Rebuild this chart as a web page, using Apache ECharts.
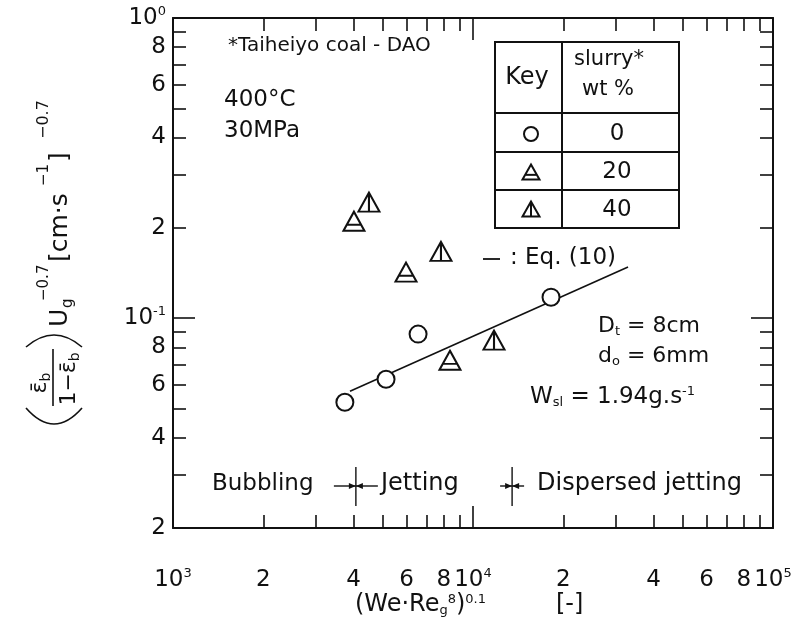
<!DOCTYPE html>
<html>
<head>
<meta charset="utf-8">
<script src="https://cdn.jsdelivr.net/npm/echarts@6/dist/echarts.min.js"></script>
<style>
  html, body { margin: 0; padding: 0; background: #fff; }
  #chart { width: 799px; height: 626px; }
</style>
</head>
<body>
<div id="chart"></div>
<script>
const FONT = '"DejaVu Sans", sans-serif';
const INK = '#111';

// Slurry 0 wt% (open circles)
const circleX = [3740, 5130, 6560, 18200];
const circleY = [0.0525, 0.0626, 0.0885, 0.1175];
// Slurry 20 wt% (triangle with bar)
const tri20X = [4010, 5980, 8380];
const tri20Y = [0.2104, 0.1424, 0.0724];
// Slurry 40 wt% (triangle with stem)
const tri40X = [4500, 7820, 11750];
const tri40Y = [0.2436, 0.167, 0.0845];
// Eq. (10) correlation line
const eqX = [3890, 32870];
const eqY = [0.0571, 0.148];
// Flow regime transitions: bubbling | jetting | dispersed jetting
const regimeBounds = [4070, 13500];

// Axis ticks and labels
const xLabelValues = [1000, 2000, 4000, 6000, 8000, 10000, 20000, 40000, 60000, 80000, 100000];
const xMajorTicks = [1000, 10000, 100000];
const xMinorTicks = [2000, 3000, 4000, 5000, 6000, 7000, 8000, 9000,
                     20000, 30000, 40000, 50000, 60000, 70000, 80000, 90000];
const yLabelValues = [0.02, 0.04, 0.06, 0.08, 0.1, 0.2, 0.4, 0.6, 0.8, 1];
const yMajorTicks = [0.1, 1];
const yMinorTicks = [0.02, 0.03, 0.04, 0.05, 0.06, 0.07, 0.08, 0.09,
                     0.2, 0.3, 0.4, 0.5, 0.6, 0.7, 0.8, 0.9];

const SYM_TRI20 = 'path://M10,0L20,18L0,18Z M3.6,12.4L16.4,12.4';
const SYM_TRI40 = 'path://M10,0L20,18L0,18Z M10,0L10,18';

function zip(xs, ys) { return xs.map((x, i) => [x, ys[i]]); }

function logLabel(v) {
  const e = Math.log10(v);
  const r = Math.round(e);
  if (Math.abs(e - r) < 1e-6) return '{n|10}{s|' + r + '}';
  const lead = Math.round(v / Math.pow(10, Math.floor(e + 1e-9)));
  return '{n|' + lead + '}';
}

const labelRich = {
  n: { fontFamily: FONT, fontSize: 23, color: INK, lineHeight: 26 },
  s: { fontFamily: FONT, fontSize: 13, color: INK, verticalAlign: 'top', lineHeight: 26 }
};

function makeAxis(dim, position, major, withLine, withLabels) {
  const isX = dim === 'x';
  return {
    type: 'log',
    logBase: 10,
    min: isX ? 1000 : 0.02,
    max: isX ? 100000 : 1,
    position: position,
    splitLine: { show: false },
    axisLine: { show: withLine, onZero: false, lineStyle: { color: INK, width: 2 } },
    axisTick: {
      show: true,
      inside: true,
      length: major ? 22 : 13,
      lineStyle: { color: INK, width: 1.6 },
      customValues: major ? (isX ? xMajorTicks : yMajorTicks) : (isX ? xMinorTicks : yMinorTicks)
    },
    axisLabel: withLabels ? {
      show: true,
      margin: isX ? 39 : 7,
      customValues: isX ? xLabelValues : yLabelValues,
      formatter: logLabel,
      rich: labelRich
    } : { show: false }
  };
}

const chart = echarts.init(document.getElementById('chart'), null, { renderer: 'canvas' });

const txt = (x, y, text, size, extra) => ({
  type: 'text', x: x, y: y,
  style: Object.assign({ text: text, font: (size || 23) + 'px ' + FONT, fill: INK, verticalAlign: 'middle' }, extra || {})
});

const richText = (x, y, text, rich, extra) => ({
  type: 'text', x: x, y: y,
  style: Object.assign({ text: text, fill: INK, rich: rich, verticalAlign: 'middle' }, extra || {})
});

function subRich(size) {
  return {
    m: { fontFamily: FONT, fontSize: size, color: INK, lineHeight: 30, verticalAlign: 'middle' },
    sb: { fontFamily: FONT, fontSize: 13, color: INK, lineHeight: 30, verticalAlign: 'bottom', padding: [0, 0, 3, 0] },
    sp: { fontFamily: FONT, fontSize: 13, color: INK, lineHeight: 30, verticalAlign: 'top', padding: [3, 0, 0, 0] }
  };
}

const line = (x1, y1, x2, y2, w) => ({
  type: 'line', shape: { x1: x1, y1: y1, x2: x2, y2: y2 },
  style: { stroke: INK, lineWidth: w || 1.8 }
});

// Key table (legend)
const T = { l: 495, r: 679, t: 42, h: 113, r1: 152, r2: 190, b: 228, c: 562 };
function keyTriangle(cx, cy, kind) {
  const w = 17, h = 15;
  const top = [cx, cy - h / 2], bl = [cx - w / 2, cy + h / 2], br = [cx + w / 2, cy + h / 2];
  const items = [{ type: 'polygon', shape: { points: [top, br, bl] },
                   style: { fill: '#fff', stroke: INK, lineWidth: 2 } }];
  if (kind === 'bar') items.push(line(cx - w * 0.32, cy + h * 0.19, cx + w * 0.32, cy + h * 0.19, 2));
  else items.push(line(cx, cy - h / 2, cx, cy + h / 2, 2));
  return items;
}

const tableGraphics = [
  { type: 'rect', shape: { x: T.l, y: T.t, width: T.r - T.l, height: T.b - T.t },
    style: { fill: '#fff', stroke: INK, lineWidth: 2 } },
  line(T.c, T.t, T.c, T.b, 2),
  line(T.l, T.h, T.r, T.h, 2),
  line(T.l, T.r1, T.r, T.r1, 2),
  line(T.l, T.r2, T.r, T.r2, 2),
  txt(527, 78, 'Key', 24, { align: 'center' }),
  txt(609, 60, 'slurry*', 21, { align: 'center' }),
  txt(608, 90, 'wt %', 21, { align: 'center' }),
  { type: 'circle', shape: { cx: 531, cy: 134, r: 7 }, style: { fill: '#fff', stroke: INK, lineWidth: 2 } },
  txt(617, 134, '0', 23, { align: 'center' }),
  txt(617, 172, '20', 23, { align: 'center' }),
  txt(617, 210, '40', 23, { align: 'center' })
].concat(keyTriangle(531, 172, 'bar'), keyTriangle(531, 209, 'stem'));

const noteGraphics = [
  txt(228, 46, '*Taiheiyo coal - DAO', 20),
  txt(224, 100, '400°C', 23),
  txt(224, 131, '30MPa', 23),
  line(483, 259, 500, 259, 1.8),
  txt(510, 258, ': Eq. (10)', 23),
  richText(598, 326, '{m|D}{sb|t}{m| = 8cm}', subRich(22)),
  richText(598, 356, '{m|d}{sb|o}{m| = 6mm}', subRich(22)),
  richText(530, 397, '{m|W}{sb|sl}{m| = 1.94g.s}{sp|-1}', subRich(23)),
  txt(212, 484, 'Bubbling', 23),
  txt(381, 484, 'Jetting', 24),
  txt(537, 484, 'Dispersed jetting', 24),
  richText(355, 605, '{m|(We·Re}{sb|g}{sp|8}{m|)}{sp|0.1}', subRich(24)),
  txt(556, 605, '[-]', 24)
];

// Rotated y-axis title: (ε̄b / (1−ε̄b)) Ug^−0.7 [cm·s^−1]^−0.7, read bottom to top
const yMain = (x, y, text, size) => ({
  type: 'text', x: x, y: y,
  style: { text: text, font: (size || 25) + 'px ' + FONT, fill: INK, verticalAlign: 'middle' }
});
const yFracRich = {
  m: { fontFamily: FONT, fontSize: 22, color: INK, lineHeight: 26, verticalAlign: 'middle' },
  sb: { fontFamily: FONT, fontSize: 14, color: INK, lineHeight: 26, verticalAlign: 'bottom' }
};
const yTitle = {
  type: 'group', x: 60, y: 426, rotation: Math.PI / 2,
  children: [
    { type: 'bezierCurve', shape: { x1: 18, y1: -34, cpx1: -14, cpy1: -6, x2: 18, y2: 22 },
      style: { stroke: INK, lineWidth: 1.6, fill: null } },
    { type: 'text', x: 43, y: -20,
      style: { text: '{m|ε\u0304}{sb|b}', rich: yFracRich, fill: INK, align: 'center', verticalAlign: 'middle' } },
    { type: 'line', shape: { x1: 20, y1: -7, x2: 77, y2: -7 }, style: { stroke: INK, lineWidth: 1.6 } },
    { type: 'text', x: 47, y: 9,
      style: { text: '{m|1−ε\u0304}{sb|b}', rich: yFracRich, fill: INK, align: 'center', verticalAlign: 'middle' } },
    { type: 'bezierCurve', shape: { x1: 79, y1: -34, cpx1: 103, cpy1: -6, x2: 79, y2: 22 },
      style: { stroke: INK, lineWidth: 1.6, fill: null } },
    yMain(99, 0, 'U'),
    yMain(118, 8, 'g', 15),
    yMain(125, -16, '−0.7', 15),
    yMain(164, 0, '[cm·s'),
    yMain(240, -16, '−1', 15),
    yMain(264, 0, ']'),
    yMain(287, -16, '−0.7', 16)
  ]
};

chart.setOption({
  backgroundColor: '#fff',
  animation: false,
  grid: { left: 173, right: 26, top: 18, bottom: 98, containLabel: false },
  xAxis: [
    makeAxis('x', 'bottom', true, true, true),
    makeAxis('x', 'bottom', false, false, false),
    makeAxis('x', 'top', true, true, false),
    makeAxis('x', 'top', false, false, false)
  ],
  yAxis: [
    makeAxis('y', 'left', true, true, true),
    makeAxis('y', 'left', false, false, false),
    makeAxis('y', 'right', true, true, false),
    makeAxis('y', 'right', false, false, false)
  ],
  series: [
    {
      name: 'Eq. (10)', type: 'line', xAxisIndex: 0, yAxisIndex: 0,
      data: zip(eqX, eqY), showSymbol: false, z: 1,
      lineStyle: { color: INK, width: 1.6 }
    },
    {
      name: '0 wt%', type: 'scatter', xAxisIndex: 0, yAxisIndex: 0, z: 3,
      data: zip(circleX, circleY), symbol: 'circle', symbolSize: 17,
      itemStyle: { color: '#fff', borderColor: INK, borderWidth: 2, opacity: 1 }
    },
    {
      name: '20 wt%', type: 'scatter', xAxisIndex: 0, yAxisIndex: 0, z: 3,
      data: zip(tri20X, tri20Y), symbol: SYM_TRI20, symbolSize: [21, 19],
      itemStyle: { color: '#fff', borderColor: INK, borderWidth: 2, opacity: 1 }
    },
    {
      name: '40 wt%', type: 'scatter', xAxisIndex: 0, yAxisIndex: 0, z: 3,
      data: zip(tri40X, tri40Y), symbol: SYM_TRI40, symbolSize: [21, 19],
      itemStyle: { color: '#fff', borderColor: INK, borderWidth: 2, opacity: 1 }
    }
  ]
});

// Regime transition markers placed on the x scale
const markerGraphics = [];
const arrowLen = [22, 12];
regimeBounds.forEach((v, i) => {
  const px = chart.convertToPixel({ xAxisIndex: 0 }, v);
  const py = 486;
  const L = arrowLen[i];
  markerGraphics.push(line(px, 467, px, 506, 1.4));
  markerGraphics.push(line(px - L, py, px, py, 1.4));
  markerGraphics.push(line(px + L, py, px, py, 1.4));
  markerGraphics.push({ type: 'polygon', shape: { points: [[px, py], [px - 7, py - 3], [px - 7, py + 3]] }, style: { fill: INK } });
  markerGraphics.push({ type: 'polygon', shape: { points: [[px, py], [px + 7, py - 3], [px + 7, py + 3]] }, style: { fill: INK } });
});
chart.setOption({ graphic: [].concat(tableGraphics, noteGraphics, [yTitle], markerGraphics) });
</script>
</body>
</html>
